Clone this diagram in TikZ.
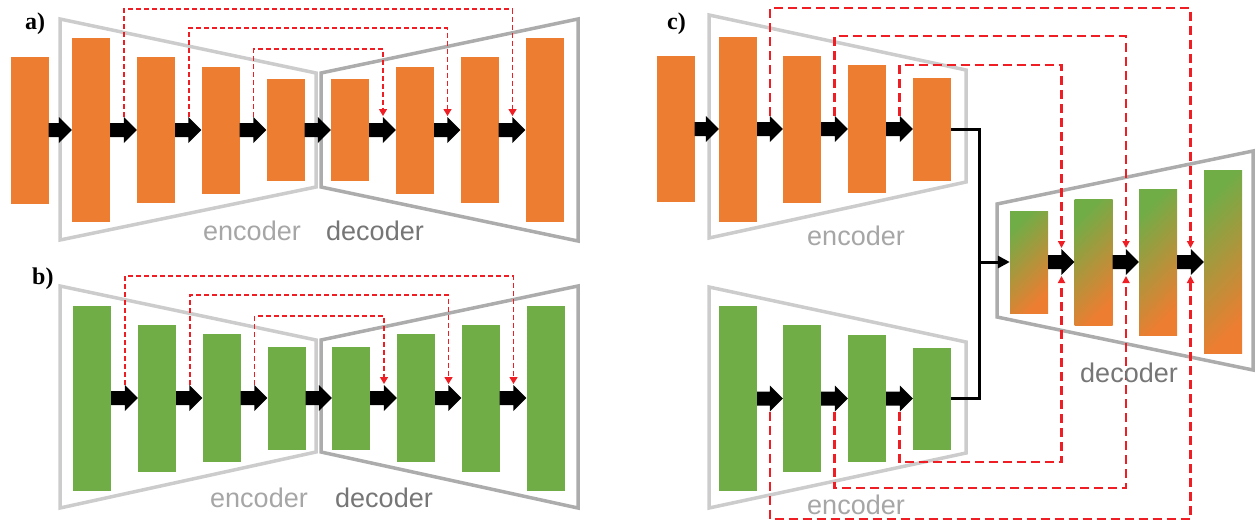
\documentclass[tikz,border=0pt]{standalone}
\usepackage{fontspec}
\setmainfont{Liberation Serif}
\setsansfont{Liberation Sans}
\usetikzlibrary{arrows.meta}

\definecolor{blkorange}{RGB}{237,125,49}
\definecolor{blkgreen}{RGB}{112,173,71}
\definecolor{encgray}{RGB}{204,204,204}
\definecolor{decgray}{RGB}{172,172,172}
\definecolor{enctext}{RGB}{166,166,166}
\definecolor{dectext}{RGB}{118,118,118}
\definecolor{skipred}{RGB}{238,30,36}

\tikzset{
  blk/.style={rectangle, inner sep=0pt, minimum width=38pt},
  oblk/.style={blk, fill=blkorange},
  gblk/.style={blk, fill=blkgreen},
  mblk/.style={blk, top color=blkgreen, bottom color=blkorange, shading angle=45},
  fat/.style={fill=black, to path={
    ([yshift=7pt]\tikztostart) -- ([xshift=-13pt, yshift=7pt]\tikztotarget)
    -- ([xshift=-13pt, yshift=13pt]\tikztotarget) -- (\tikztotarget)
    -- ([xshift=-13pt, yshift=-13pt]\tikztotarget) -- ([xshift=-13pt, yshift=-7pt]\tikztotarget)
    -- ([yshift=-7pt]\tikztostart) -- cycle}},
  encbox/.style={draw=encgray, line width=3.5pt, line join=miter},
  decbox/.style={draw=decgray, line width=3.5pt, line join=miter},
  skipthin/.style={draw=skipred, line width=1.4pt, dash pattern=on 5pt off 3pt, -{Triangle[length=7pt, width=8pt]}},
  skipthick/.style={draw=skipred, line width=2.4pt, dash pattern=on 9pt off 5pt, -{Triangle[length=7pt, width=7pt]}},
  joinline/.style={draw=black, line width=3pt},
  enclabel/.style={anchor=base, font=\sffamily\fontsize{27}{30}\selectfont, text=enctext, inner sep=0pt},
  declabel/.style={anchor=base, font=\sffamily\fontsize{27}{30}\selectfont, text=dectext, inner sep=0pt},
  panel/.style={anchor=base west, font=\bfseries\fontsize{24}{28}\selectfont, inner sep=0pt}
}

\begin{document}
\begin{tikzpicture}[x=1pt, y=-1pt]
\useasboundingbox (0,0) rectangle (1257,523);

% frames
\draw[encbox] (60,19) -- (316,73) -- (316,187) -- (60,240) -- cycle;
\draw[decbox] (321,73) -- (578,19) -- (578,241) -- (321,187) -- cycle;
\draw[encbox] (60,286) -- (316,340) -- (316,452) -- (60,508) -- cycle;
\draw[decbox] (321,340) -- (578,286) -- (578,508) -- (321,452) -- cycle;
\draw[encbox] (709,15) -- (966,70) -- (966,182) -- (709,238) -- cycle;
\draw[encbox] (709,287) -- (966,342) -- (966,453) -- (709,508) -- cycle;
\draw[decbox] (997,204) -- (1253,151) -- (1253,370) -- (997,317) -- cycle;

% a)
\node[panel] (pa) at (25,29) {a)};
\node[oblk, minimum height=147pt] (a0) at (29.5,130){};
\node[oblk, minimum height=184pt] (a1) at (91,130){};
\node[oblk, minimum height=146pt] (a2) at (156,130){};
\node[oblk, minimum height=127pt] (a3) at (220.5,130){};
\node[oblk, minimum height=102pt] (a4) at (285.5,130){};
\node[oblk, minimum height=102pt] (a5) at (350,130){};
\node[oblk, minimum height=127pt] (a6) at (415,130){};
\node[oblk, minimum height=146pt] (a7) at (479.5,130){};
\node[oblk, minimum height=184pt] (a8) at (544.5,130){};

\fill[fat] (a0.east) to (a1.west);
\fill[fat] (a1.east) to (a2.west);
\fill[fat] (a2.east) to (a3.west);
\fill[fat] (a3.east) to (a4.west);
\fill[fat] (a4.east) to (a5.west);
\fill[fat] (a5.east) to (a6.west);
\fill[fat] (a6.east) to (a7.west);
\fill[fat] (a7.east) to (a8.west);

\coordinate (sa1) at (124,117);
\coordinate (sa2) at (189,117);
\coordinate (sa3) at (253.5,117);
\coordinate (ta3) at (383,116);
\coordinate (ta2) at (447.5,116);
\coordinate (ta1) at (512.5,116);
\draw[skipthin] (sa1) -- ++(0,-108) -| (ta1);
\draw[skipthin] (sa2) -- ++(0,-89) -| (ta2);
\draw[skipthin] (sa3) -- ++(0,-68) -| (ta3);

\node[enclabel] (enca) at (252,240) {encoder};
\node[declabel] (deca) at (375,240) {decoder};

% b)
\node[panel] (pb) at (32,284) {b)};
\node[gblk, minimum height=185pt] (b1) at (92,398){};
\node[gblk, minimum height=147pt] (b2) at (157,398){};
\node[gblk, minimum height=128pt] (b3) at (221.5,398){};
\node[gblk, minimum height=103pt] (b4) at (286.5,398){};
\node[gblk, minimum height=103pt] (b5) at (351,398){};
\node[gblk, minimum height=128pt] (b6) at (416,398){};
\node[gblk, minimum height=147pt] (b7) at (480.5,398){};
\node[gblk, minimum height=185pt] (b8) at (545.5,398){};

\fill[fat] (b1.east) to (b2.west);
\fill[fat] (b2.east) to (b3.west);
\fill[fat] (b3.east) to (b4.west);
\fill[fat] (b4.east) to (b5.west);
\fill[fat] (b5.east) to (b6.west);
\fill[fat] (b6.east) to (b7.west);
\fill[fat] (b7.east) to (b8.west);

\coordinate (sb1) at (125,385);
\coordinate (sb2) at (190,385);
\coordinate (sb3) at (254.5,385);
\coordinate (tb3) at (384,384);
\coordinate (tb2) at (448.5,384);
\coordinate (tb1) at (513.5,384);
\draw[skipthin] (sb1) -- ++(0,-109) -| (tb1);
\draw[skipthin] (sb2) -- ++(0,-90) -| (tb2);
\draw[skipthin] (sb3) -- ++(0,-69) -| (tb3);

\node[enclabel] (encb) at (259,507) {encoder};
\node[declabel] (decb) at (384,507) {decoder};

% c)
\node[panel] (pc) at (667,29) {c)};
\node[oblk, minimum height=146pt] (c0) at (675.5,129){};
\node[oblk, minimum height=185pt] (c1) at (738,129){};
\node[oblk, minimum height=147pt] (c2) at (802,129){};
\node[oblk, minimum height=128pt] (c3) at (867,129){};
\node[oblk, minimum height=103pt] (c4) at (932,129){};

\node[gblk, minimum height=185pt] (g1) at (738,398.5){};
\node[gblk, minimum height=147pt] (g2) at (802,398.5){};
\node[gblk, minimum height=127pt] (g3) at (867,398.5){};
\node[gblk, minimum height=102pt] (g4) at (932,398.5){};

\node[mblk, minimum height=102pt] (e1) at (1029,262){};
\node[mblk, minimum height=126pt] (e2) at (1093.5,262){};
\node[mblk, minimum height=146pt] (e3) at (1158,262){};
\node[mblk, minimum height=183pt] (e4) at (1223,262){};

\fill[fat] (c0.east) to (c1.west);
\fill[fat] (c1.east) to (c2.west);
\fill[fat] (c2.east) to (c3.west);
\fill[fat] (c3.east) to (c4.west);
\fill[fat] (g1.east) to (g2.west);
\fill[fat] (g2.east) to (g3.west);
\fill[fat] (g3.east) to (g4.west);
\fill[fat] (e1.east) to (e2.west);
\fill[fat] (e2.east) to (e3.west);
\fill[fat] (e3.east) to (e4.west);

\coordinate (jn) at (979,262);
\draw[joinline] (c4.east) -| (jn) |- (g4.east);
\draw[joinline, -{Triangle[length=12pt, width=12pt]}] (jn) -- (e1.west);

\coordinate (sc1) at (770,116);
\coordinate (sc2) at (834.5,116);
\coordinate (sc3) at (899.5,116);
\coordinate (tc3) at (1061.5,248);
\coordinate (tc2) at (1126,248);
\coordinate (tc1) at (1190.5,248);
\draw[skipthick] (sc1) -- ++(0,-108) -| (tc1);
\draw[skipthick] (sc2) -- ++(0,-80) -| (tc2);
\draw[skipthick] (sc3) -- ++(0,-51) -| (tc3);

\coordinate (sg1) at (770,411.5);
\coordinate (sg2) at (834.5,411.5);
\coordinate (sg3) at (899.5,411.5);
\coordinate (ug3) at (1061.5,276);
\coordinate (ug2) at (1126,276);
\coordinate (ug1) at (1190.5,276);
\draw[skipthick] (sg1) -- ++(0,107.5) -| (ug1);
\draw[skipthick] (sg2) -- ++(0,76.5) -| (ug2);
\draw[skipthick] (sg3) -- ++(0,50.5) -| (ug3);

\node[enclabel] (encc) at (856,245) {encoder};
\node[enclabel] (encg) at (856,514) {encoder};
\node[declabel] (decc) at (1129,382) {decoder};

\end{tikzpicture}
\end{document}
